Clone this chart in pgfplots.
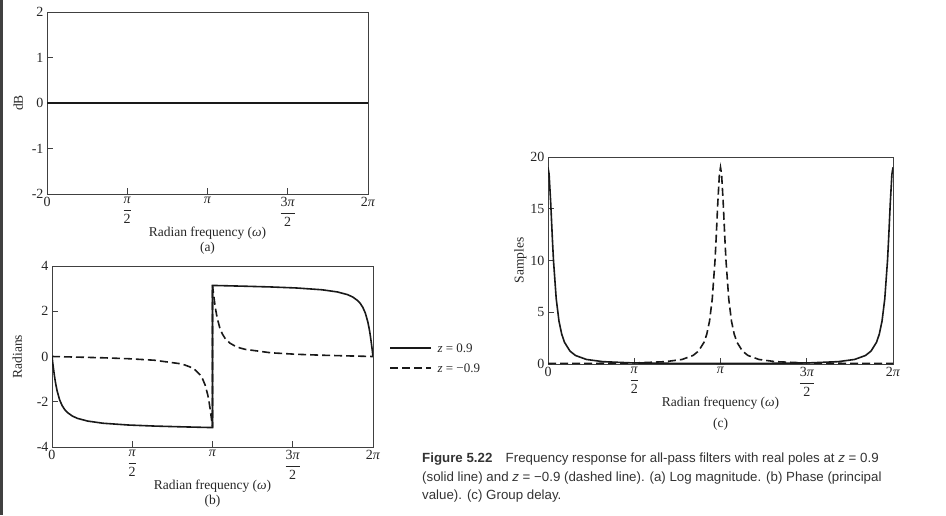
\documentclass[border=0pt]{standalone}
\usepackage{amsmath}
\usepackage{fontspec}
\setmainfont{Liberation Serif}
\newfontfamily\capfont{Liberation Sans}
\usepackage{pgfplots}
\pgfplotsset{compat=1.18}

\tikzset{
  solidcurve/.style={black!90, line width=1.6pt},
  dashcurve/.style={black!90, line width=1.6pt, dash pattern=on 8pt off 4pt},
}
\pgfplotsset{
  dspstyle/.style={
    scale only axis, anchor=south west,
    xmin=0, xmax=6.2832,
    xtick={0,1.5708,3.1416,4.7124,6.2832},
    xticklabels={0,$\dfrac{\textit{π}}{\text{2}}$,\textit{π},$\dfrac{\text{3}\textit{π}}{\text{2}}$,2\textit{π}},
    tick align=inside, xtick pos=bottom, ytick pos=left,
    major tick length=6pt,
    axis line style={black!75, line width=0.8pt},
    tick style={black!75, line width=0.7pt},
    every tick label/.append style={font=\fontsize{14}{16}\selectfont, text=black!85},
    label style={font=\fontsize{13.5}{15}\selectfont, text=black!85},
    /pgf/number format/assume math mode=true,
    xlabel style={align=center},
  },
}

\begin{document}
\begin{tikzpicture}
\useasboundingbox (0,0) rectangle (946pt,515pt);
\fill[black!75] (0,0) rectangle (2.5pt,515pt);

% (a) log magnitude
\begin{axis}[dspstyle, at={(47pt,321pt)}, width=321pt, height=182pt,
  ymin=-2, ymax=2, ytick={-2,-1,0,1,2},
  ylabel={dB}, ylabel style={yshift=2pt},
  xlabel={Radian frequency (\textit{ω})\\[0pt](a)}, xlabel style={yshift=6pt}]
\addplot[solidcurve] coordinates {(0,0) (6.2832,0)};
\end{axis}

% (b) phase
\begin{axis}[dspstyle, at={(52pt,68pt)}, width=321pt, height=181pt,
  ymin=-4, ymax=4, ytick={-4,-2,0,2,4},
  ylabel={Radians}, ylabel style={yshift=8pt},
  xlabel={Radian frequency (\textit{ω})\\[0pt](b)}, xlabel style={yshift=6pt}]
\addplot[solidcurve] coordinates {
  (0,0) (0.01,-0.189) (0.02,-0.376) (0.03,-0.555) (0.05,-0.887) (0.07,-1.174)
  (0.1,-1.519) (0.15,-1.920) (0.2,-2.176) (0.25,-2.348) (0.3,-2.472) (0.4,-2.634)
  (0.5,-2.736) (0.7,-2.855) (1.0,-2.950) (1.5,-3.029) (2.0,-3.074) (2.5,-3.106)
  (3.0,-3.134) (3.1416,-3.1416) (3.1416,3.1416) (3.2832,3.134) (3.7832,3.106)
  (4.2832,3.074) (4.7832,3.029) (5.2832,2.950) (5.5832,2.855) (5.7832,2.736)
  (5.8832,2.634) (5.9832,2.472) (6.0332,2.348) (6.0832,2.176) (6.1332,1.920)
  (6.1832,1.519) (6.2132,1.174) (6.2332,0.887) (6.2532,0.555) (6.2632,0.376)
  (6.2732,0.189) (6.2832,0)};
\addplot[dashcurve] coordinates {
  (0,0) (0.5,-0.027) (1.0,-0.057) (1.5,-0.098) (2.0,-0.164) (2.5,-0.316)
  (2.6,-0.375) (2.7,-0.460) (2.8,-0.591) (2.9,-0.818) (2.95,-1.002) (3.0,-1.276)
  (3.05,-1.708) (3.075,-2.013) (3.1,-2.389) (3.12,-2.737) (3.13,-2.922)
  (3.1416,-3.1416) (3.1416,3.1416) (3.1532,2.922) (3.1632,2.737) (3.1832,2.389)
  (3.2082,2.013) (3.2332,1.708) (3.2832,1.276) (3.3332,1.002) (3.3832,0.818)
  (3.4832,0.591) (3.5832,0.460) (3.6832,0.375) (3.7832,0.316) (4.2832,0.164)
  (4.7832,0.098) (5.2832,0.057) (5.7832,0.027) (6.2832,0)};
\end{axis}

% (c) group delay
\begin{axis}[dspstyle, at={(548pt,151pt)}, width=345pt, height=207pt,
  ymin=0, ymax=20, ytick={0,5,10,15,20},
  ylabel={Samples}, ylabel style={yshift=-3pt},
  xlabel={Radian frequency (\textit{ω})\\[6pt](c)}, xlabel style={yshift=6pt}]
\addplot[solidcurve] coordinates {
  (0,19) (0.02,18.34) (0.05,15.51) (0.08,12.06) (0.1,10.0) (0.15,6.29)
  (0.2,4.14) (0.25,2.88) (0.3,2.10) (0.4,1.249) (0.5,0.825) (0.7,0.4385)
  (1.0,0.2269) (1.5,0.1129) (2.0,0.0742) (2.5,0.0584) (3.1416,0.0526)
  (3.7832,0.0584) (4.2832,0.0742) (4.7832,0.1129) (5.2832,0.2269) (5.5832,0.4385)
  (5.7832,0.825) (5.8832,1.249) (5.9832,2.10) (6.0332,2.88) (6.0832,4.14)
  (6.1332,6.29) (6.1832,10.0) (6.2032,12.06) (6.2332,15.51) (6.2632,18.34)
  (6.2832,19)};
\addplot[dashcurve] coordinates {
  (0,0.0526) (0.6416,0.0584) (1.1416,0.0742) (1.6416,0.1129) (2.1416,0.2269)
  (2.4416,0.4385) (2.6416,0.825) (2.7416,1.249) (2.8416,2.10) (2.8916,2.88)
  (2.9416,4.14) (2.9916,6.29) (3.0416,10.0) (3.0616,12.06) (3.0916,15.51)
  (3.1216,18.34) (3.1416,19) (3.1616,18.34) (3.1916,15.51) (3.2216,12.06)
  (3.2416,10.0) (3.2916,6.29) (3.3416,4.14) (3.3916,2.88) (3.4416,2.10)
  (3.5416,1.249) (3.6416,0.825) (3.8416,0.4385) (4.1416,0.2269) (4.6416,0.1129)
  (5.1416,0.0742) (5.6416,0.0584) (6.2832,0.0526)};
\end{axis}

% legend
\draw[solidcurve] (390pt,167pt) -- (431pt,167pt);
\node[anchor=west, font=\fontsize{13}{15}\selectfont, text=black!85] at (434pt,167pt) {\textit{z} = 0.9};
\draw[dashcurve] (390pt,147pt) -- (431pt,147pt);
\node[anchor=west, font=\fontsize{13}{15}\selectfont, text=black!85] at (434pt,147pt) {\textit{z} = −0.9};

% caption
\node[anchor=north west, inner sep=0pt, align=left, text=black!80,
  font=\capfont\fontsize{13.3}{18.5}\selectfont] at (422pt,62pt)
  {\textbf{Figure 5.22}\quad Frequency response for all-pass filters with real poles at \textit{z} = 0.9\\
   (solid line) and \textit{z} = −0.9 (dashed line). (a) Log magnitude. (b) Phase (principal\\
   value). (c) Group delay.};
\end{tikzpicture}
\end{document}
